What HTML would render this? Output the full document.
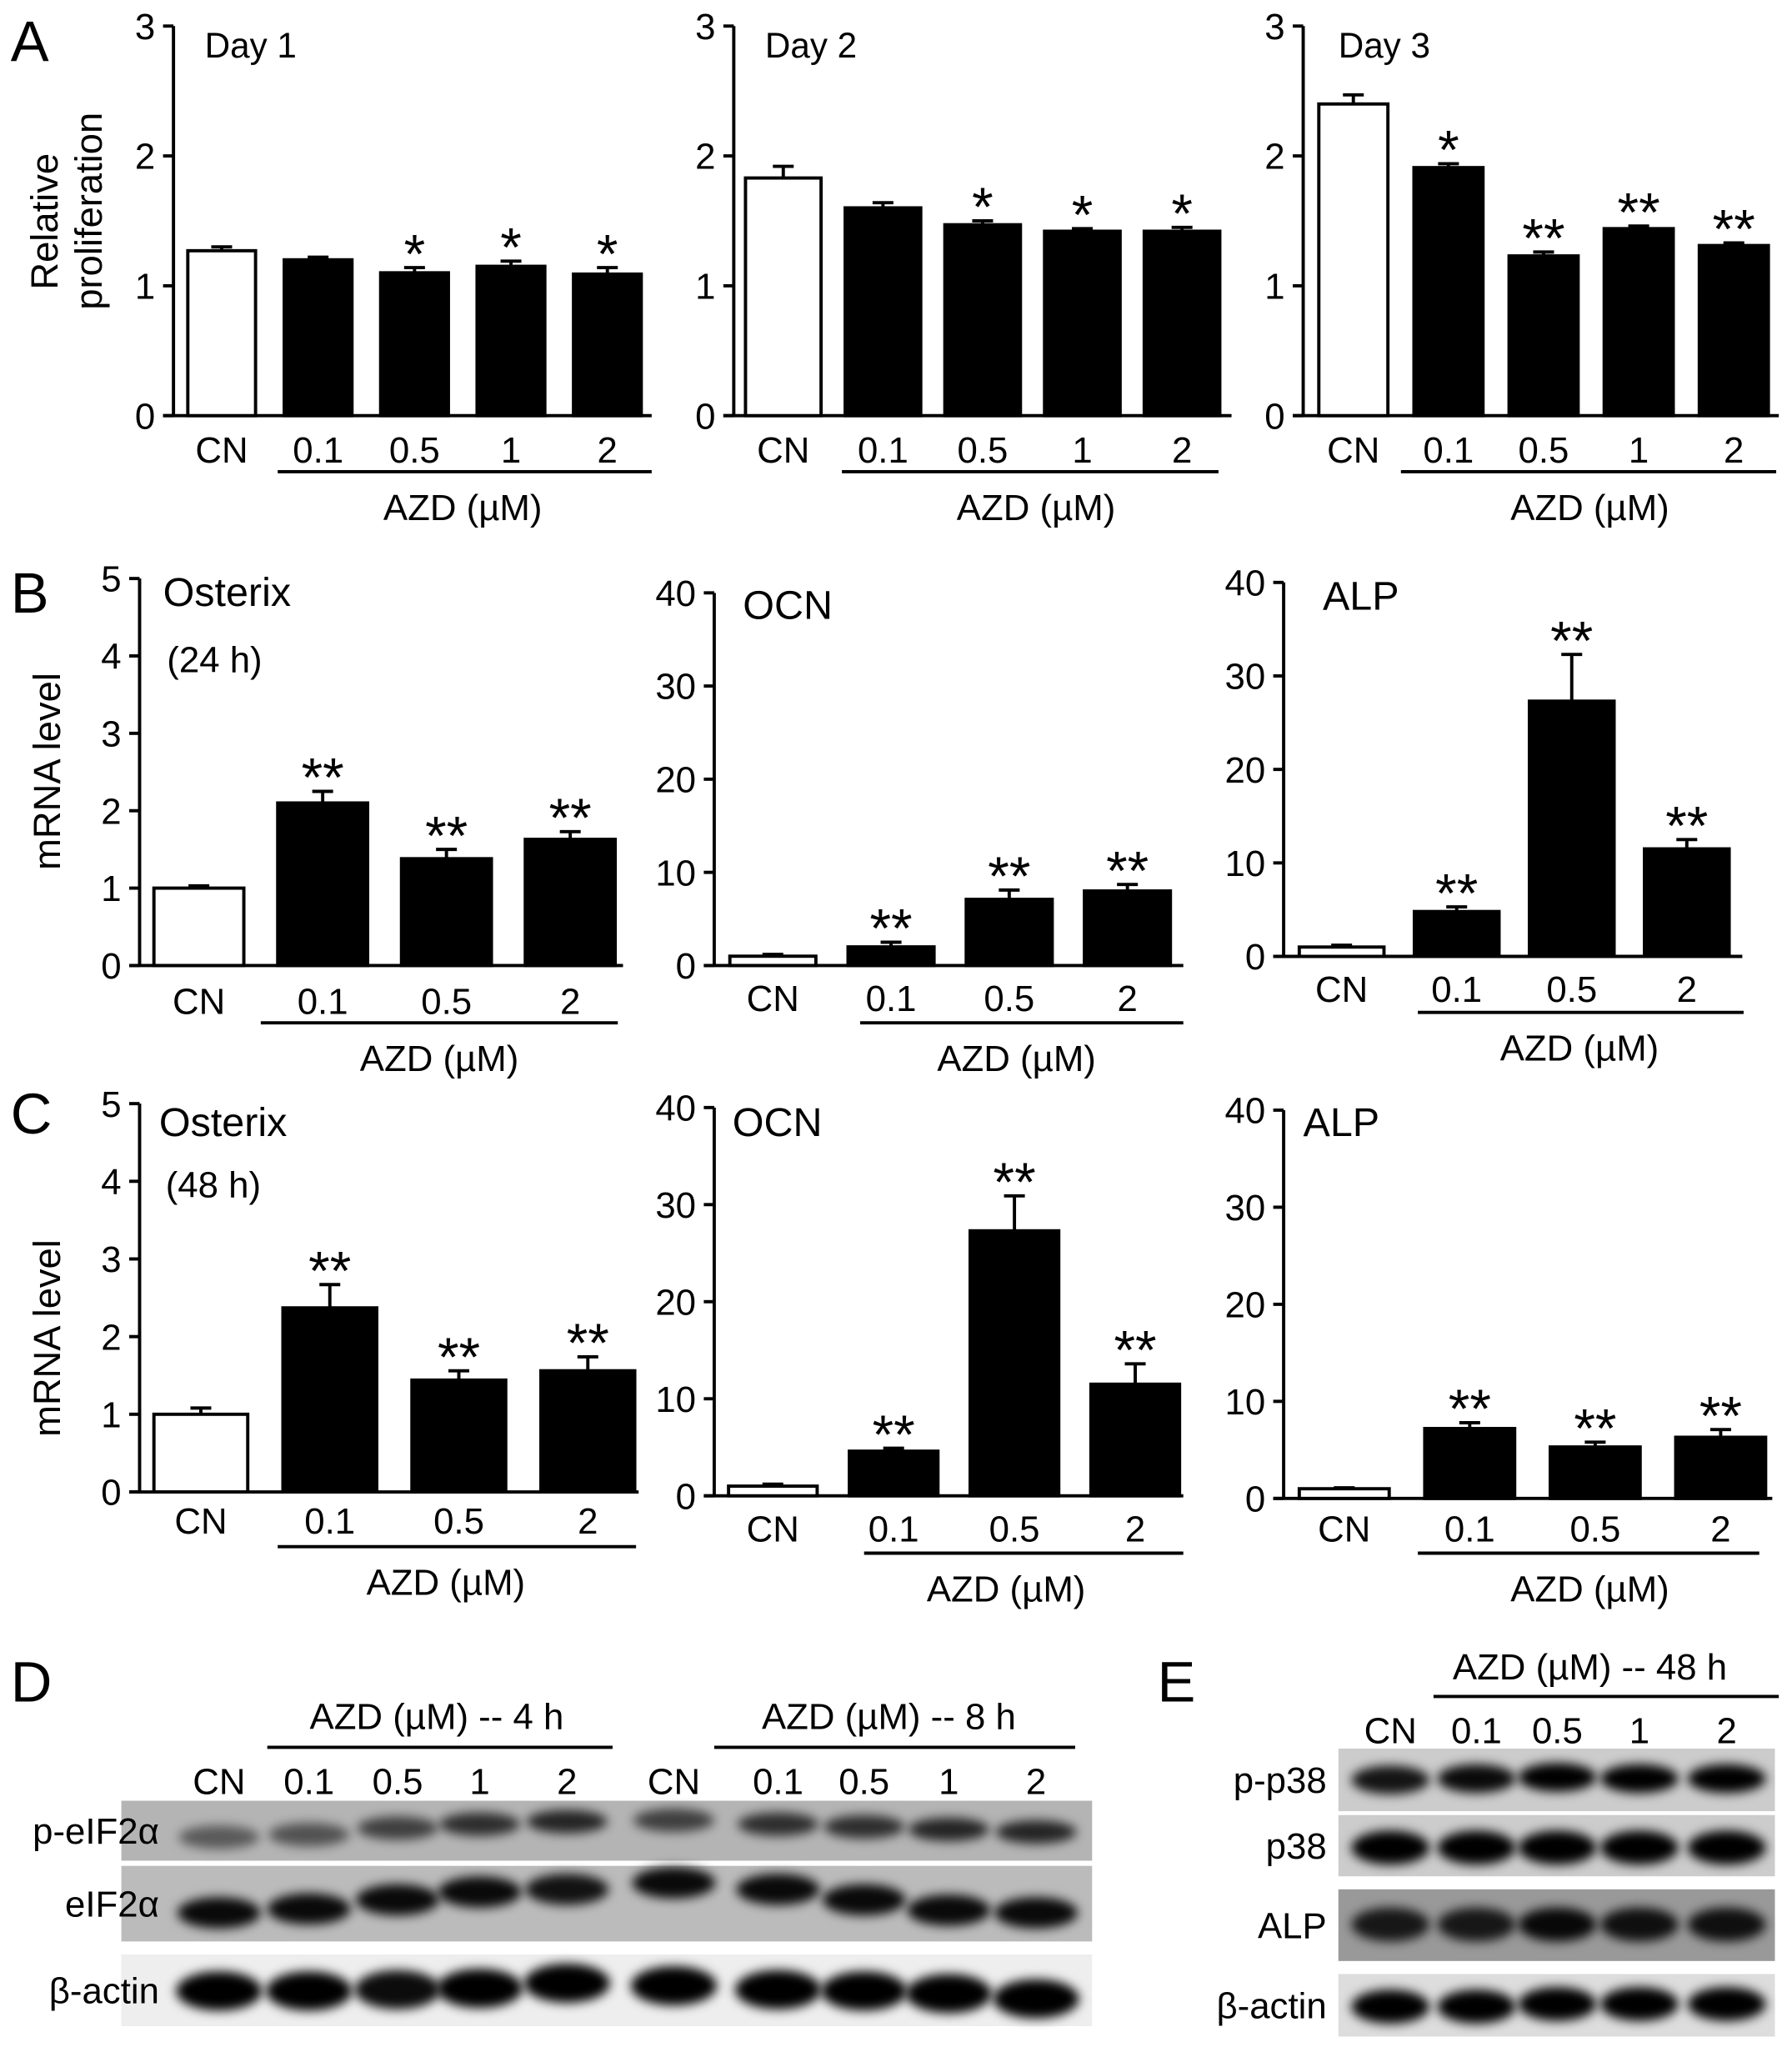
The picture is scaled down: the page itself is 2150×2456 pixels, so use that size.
<!DOCTYPE html>
<html><head><meta charset="utf-8">
<style>
html,body{margin:0;padding:0;background:#fff;}
svg{display:block;font-family:"Liberation Sans",Arial,sans-serif;}
</style></head>
<body>
<svg id="fig" width="2150" height="2456" viewBox="0 0 1375 1571" xmlns="http://www.w3.org/2000/svg">
<defs>
<filter id="blur" x="-30%" y="-60%" width="160%" height="220%"><feGaussianBlur stdDeviation="4"/></filter>
</defs>
<g id="charts"></g>
<g id="blots"></g>
</svg>
<script>
// ---- chart data ----
const catsA = ["CN","0.1","0.5","1","2"];
const catsB = ["CN","0.1","0.5","2"];
const day1Vals = [1.27,1.20,1.10,1.15,1.09];
const day1Errs = [0.03,0.02,0.04,0.04,0.05];
const day1Stars = ["","","*","*","*"];
const day2Vals = [1.83,1.60,1.47,1.42,1.42];
const day2Errs = [0.09,0.04,0.03,0.02,0.03];
const day2Stars = ["","","*","*","*"];
const day3Vals = [2.40,1.91,1.23,1.44,1.31];
const day3Errs = [0.07,0.03,0.03,0.02,0.02];
const day3Stars = ["","*","**","**","**"];
const b1Vals = [1.0,2.1,1.38,1.63];
const b1Errs = [0.03,0.15,0.12,0.10];
const b2Vals = [1.0,2.0,7.1,8.0];
const b2Errs = [0.2,0.5,1.0,0.7];
const b3Vals = [1.0,4.8,27.3,11.5];
const b3Errs = [0.2,0.5,5.0,1.0];
const c1Vals = [1.0,2.37,1.44,1.56];
const c1Errs = [0.08,0.30,0.12,0.18];
const c2Vals = [1.0,4.6,27.3,11.5];
const c2Errs = [0.2,0.3,3.6,2.1];
const c3Vals = [1.0,7.2,5.3,6.3];
const c3Errs = [0.1,0.6,0.5,0.8];
const starsB = ["","**","**","**"];
const ticksA = [0,1,2,3];
const ticksOst = [0,1,2,3,4,5];
const ticksTen = [0,10,20,30,40];

const NS="http://www.w3.org/2000/svg";
function mk(parent,tag,attrs,text){const e=document.createElementNS(NS,tag);for(const k in attrs)e.setAttribute(k,attrs[k]);if(text!==undefined)e.textContent=text;parent.appendChild(e);return e;}

const chartsG=document.getElementById('charts');
function chart(o){
  const g=mk(chartsG,'g',{});
  
  
  const ymax=o.ticks[o.ticks.length-1];
  const y=v=>o.y0-(v/ymax)*(o.y0-o.yTop);
  const ax=mk(g,'path',{d:`M${o.ax} ${o.yTop} V${o.y0} M${o.ax-8} ${o.y0} H${o.xEnd}`,stroke:'#000','stroke-width':2.5,fill:'none'});
  
  
  o.ticks.forEach(t=>{
    mk(g,'line',{x1:o.ax-8,x2:o.ax,y1:y(t),y2:y(t),stroke:'#000','stroke-width':2.5});
    const tl=mk(g,'text',{x:o.ax-14,y:y(t)+10,'text-anchor':'end','font-size':28},String(t));
    
    
  });
  o.vals.forEach((v,i)=>{
    const x0=o.x1+i*o.pitch, cx=x0+o.bw/2;
    const r=mk(g,'rect',{x:x0,y:y(v),width:o.bw,height:o.y0-y(v),fill:i===0?'#fff':'#000',stroke:'#000','stroke-width':2.5});
    
    
    const ye=y(v+o.errs[i]);
    mk(g,'path',{d:`M${cx} ${y(v)} V${ye} M${cx-8} ${ye} H${cx+8}`,stroke:'#000','stroke-width':2.5,fill:'none'});
    if(o.stars[i]){
      const s=mk(g,'text',{x:cx,y:ye+4,'text-anchor':'middle','font-size':42},o.stars[i]);
      
      
    }
    const cl=mk(g,'text',{x:cx,y:o.labY,'text-anchor':'middle','font-size':28},o.cats[i]);
    
    
  });
  mk(g,'line',{x1:o.ulX1,x2:o.ulX2,y1:o.ulY,y2:o.ulY,stroke:'#000','stroke-width':2.5});
  const az=mk(g,'text',{x:o.azX,y:o.ulY+37,'text-anchor':'middle','font-size':28},'AZD (µM)');
  
  
  o.titles.forEach(t=>{const tt=mk(g,'text',{x:t[0],y:t[1],'font-size':t[3]||31},t[2]);});
}
chart({name:'chart-day1',cats:catsA,vals:day1Vals,errs:day1Errs,stars:day1Stars,ticks:ticksA,ax:133,y0:319,yTop:20,xEnd:500,x1:144,bw:52,pitch:74,labY:355,ulX1:213,ulX2:500,ulY:362,azX:355,titles:[[157,44,'Day 1',27]]});
chart({name:'chart-day2',cats:catsA,vals:day2Vals,errs:day2Errs,stars:day2Stars,ticks:ticksA,ax:563,y0:319,yTop:20,xEnd:945,x1:572,bw:58,pitch:76.5,labY:355,ulX1:646,ulX2:935,ulY:362,azX:795,titles:[[587,44,'Day 2',27]]});
chart({name:'chart-day3',cats:catsA,vals:day3Vals,errs:day3Errs,stars:day3Stars,ticks:ticksA,ax:1000,y0:319,yTop:20,xEnd:1365,x1:1012,bw:53,pitch:73,labY:355,ulX1:1075,ulX2:1363,ulY:362,azX:1220,titles:[[1027,44,'Day 3',27]]});
chart({name:'chart-b-osterix',cats:catsB,vals:b1Vals,errs:b1Errs,stars:starsB,ticks:ticksOst,ax:107,y0:741,yTop:444,xEnd:478,x1:118,bw:69,pitch:95,labY:778,ulX1:200,ulX2:474,ulY:785,azX:337,titles:[[125,465,'Osterix'],[128,516,'(24 h)',28]]});
chart({name:'chart-b-ocn',cats:catsB,vals:b2Vals,errs:b2Errs,stars:starsB,ticks:ticksTen,ax:548,y0:741,yTop:455,xEnd:908,x1:560,bw:66,pitch:90.7,labY:776,ulX1:660,ulX2:908,ulY:785,azX:780,titles:[[570,475,'OCN']]});
chart({name:'chart-b-alp',cats:catsB,vals:b3Vals,errs:b3Errs,stars:starsB,ticks:ticksTen,ax:985,y0:734,yTop:447,xEnd:1337,x1:997,bw:65,pitch:88.3,labY:769,ulX1:1088,ulX2:1338,ulY:777,azX:1212,titles:[[1015,468,'ALP']]});
chart({name:'chart-c-osterix',cats:catsB,vals:c1Vals,errs:c1Errs,stars:starsB,ticks:ticksOst,ax:107,y0:1145,yTop:847,xEnd:490,x1:118,bw:72,pitch:99,labY:1177,ulX1:213,ulX2:488,ulY:1187,azX:342,titles:[[122,872,'Osterix'],[127,919,'(48 h)',28]]});
chart({name:'chart-c-ocn',cats:catsB,vals:c2Vals,errs:c2Errs,stars:starsB,ticks:ticksTen,ax:548,y0:1148,yTop:850,xEnd:908,x1:559,bw:68,pitch:92.7,labY:1183,ulX1:663,ulX2:908,ulY:1192,azX:772,titles:[[562,872,'OCN']]});
chart({name:'chart-c-alp',cats:catsB,vals:c3Vals,errs:c3Errs,stars:starsB,ticks:ticksTen,ax:985,y0:1150,yTop:852,xEnd:1360,x1:997,bw:69,pitch:96.3,labY:1183,ulX1:1088,ulX2:1350,ulY:1192,azX:1220,titles:[[1000,872,'ALP']]});

function txt(x,y,s,size,name,extra){const t=mk(chartsG,'text',Object.assign({x:x,y:y,'font-size':size},extra||{}),s);return t;}
txt(0,0,'Relative',29,'y-axis-title',{transform:'translate(44,170) rotate(-90)','text-anchor':'middle'});
txt(0,0,'proliferation',29,'y-axis-title',{transform:'translate(78,162) rotate(-90)','text-anchor':'middle'});
txt(0,0,'mRNA level',29,'y-axis-title',{transform:'translate(46,592) rotate(-90)','text-anchor':'middle'});
txt(0,0,'mRNA level',29,'y-axis-title',{transform:'translate(46,1027) rotate(-90)','text-anchor':'middle'});
txt(8,47,'A',44,'panel-letter-a');
txt(8,470,'B',44,'panel-letter-b');
txt(8,870,'C',44,'panel-letter-c');
txt(8,1306,'D',44,'panel-letter-d');
txt(888,1306,'E',44,'panel-letter-e');

// ---- blots ----
const blotsG=document.getElementById('blots');
const dLanes=[168,237,305,368,435,517,597,663,728,795];
const dLaneLabels=["CN","0.1","0.5","1","2","CN","0.1","0.5","1","2"];
const eLanes=[1067,1133,1195,1258,1325];
const eLaneLabels=["CN","0.1","0.5","1","2"];
function bt(x,y,s,size,name,anchor){const t=mk(blotsG,'text',{x:x,y:y,'font-size':size,'text-anchor':anchor||'middle'},s);}
bt(335,1327,'AZD (µM) -- 4 h',28,'blot-header-4h');
mk(blotsG,'line',{x1:205,x2:470,y1:1341,y2:1341,stroke:'#000','stroke-width':2.5});
bt(682,1327,'AZD (µM) -- 8 h',28,'blot-header-8h');
mk(blotsG,'line',{x1:548,x2:825,y1:1341,y2:1341,stroke:'#000','stroke-width':2.5});
dLanes.forEach((x,i)=>bt(x,1377,dLaneLabels[i],28,'lane-label'));
bt(1220,1289,'AZD (µM) -- 48 h',28,'blot-header-48h');
mk(blotsG,'line',{x1:1100,x2:1365,y1:1302,y2:1302,stroke:'#000','stroke-width':2.5});
eLanes.forEach((x,i)=>bt(x,1338,eLaneLabels[i],28,'lane-label'));

function blot(name,label,x1,x2,y1,y2,bg,lanes,bandY,bandW,bandH,dark,lx){
  const g=mk(blotsG,'g',{});
  
  
  mk(g,'rect',{x:x1,y:y1,width:x2-x1,height:y2-y1,fill:bg});
  lanes.forEach((x,i)=>{
    const e=mk(g,'ellipse',{cx:x,cy:bandY[i],rx:bandW/2,ry:bandH/2,fill:'#000','fill-opacity':dark[i],filter:'url(#blur)'});
    
    
  });
  const t=mk(blotsG,'text',{x:lx,y:(y1+y2)/2+10,'font-size':28,'text-anchor':'end'},label);
  
  
}
blot('blot-p-eif2a','p-eIF2α',93,838,1382,1428,'#b4b4b4',dLanes,[1410,1408,1403,1400,1398,1397,1400,1402,1404,1406],62,18,[0.5,0.55,0.65,0.75,0.8,0.65,0.75,0.75,0.8,0.8],122);
blot('blot-eif2a','eIF2α',93,838,1432,1490,'#bbb',dLanes,[1468,1465,1458,1452,1450,1445,1450,1458,1466,1468],64,24,[0.95,0.95,0.95,0.95,0.9,0.95,0.95,0.95,0.95,0.95],122);
blot('blot-b-actin-d','β-actin',93,838,1500,1555,'#eee',dLanes,[1528,1528,1527,1526,1522,1524,1527,1528,1530,1534],66,30,[1,1,0.95,1,1,1,1,1,1,1],122);
blot('blot-p-p38','p-p38',1027,1362,1342,1390,'#ccc',eLanes,[1366,1365,1364,1365,1365],60,22,[0.9,0.95,1,1,1],1018);
blot('blot-p38','p38',1027,1362,1393,1440,'#ccc',eLanes,[1418,1418,1418,1418,1418],60,26,[1,1,1,1,1],1018);
blot('blot-alp','ALP',1027,1362,1450,1505,'#999',eLanes,[1477,1477,1477,1477,1477],60,26,[0.85,0.85,0.95,0.9,0.9],1018);
blot('blot-b-actin-e','β-actin',1027,1362,1515,1563,'#ddd',eLanes,[1540,1540,1538,1538,1538],60,26,[1,1,1,1,1],1018);
</script>
</body></html>
